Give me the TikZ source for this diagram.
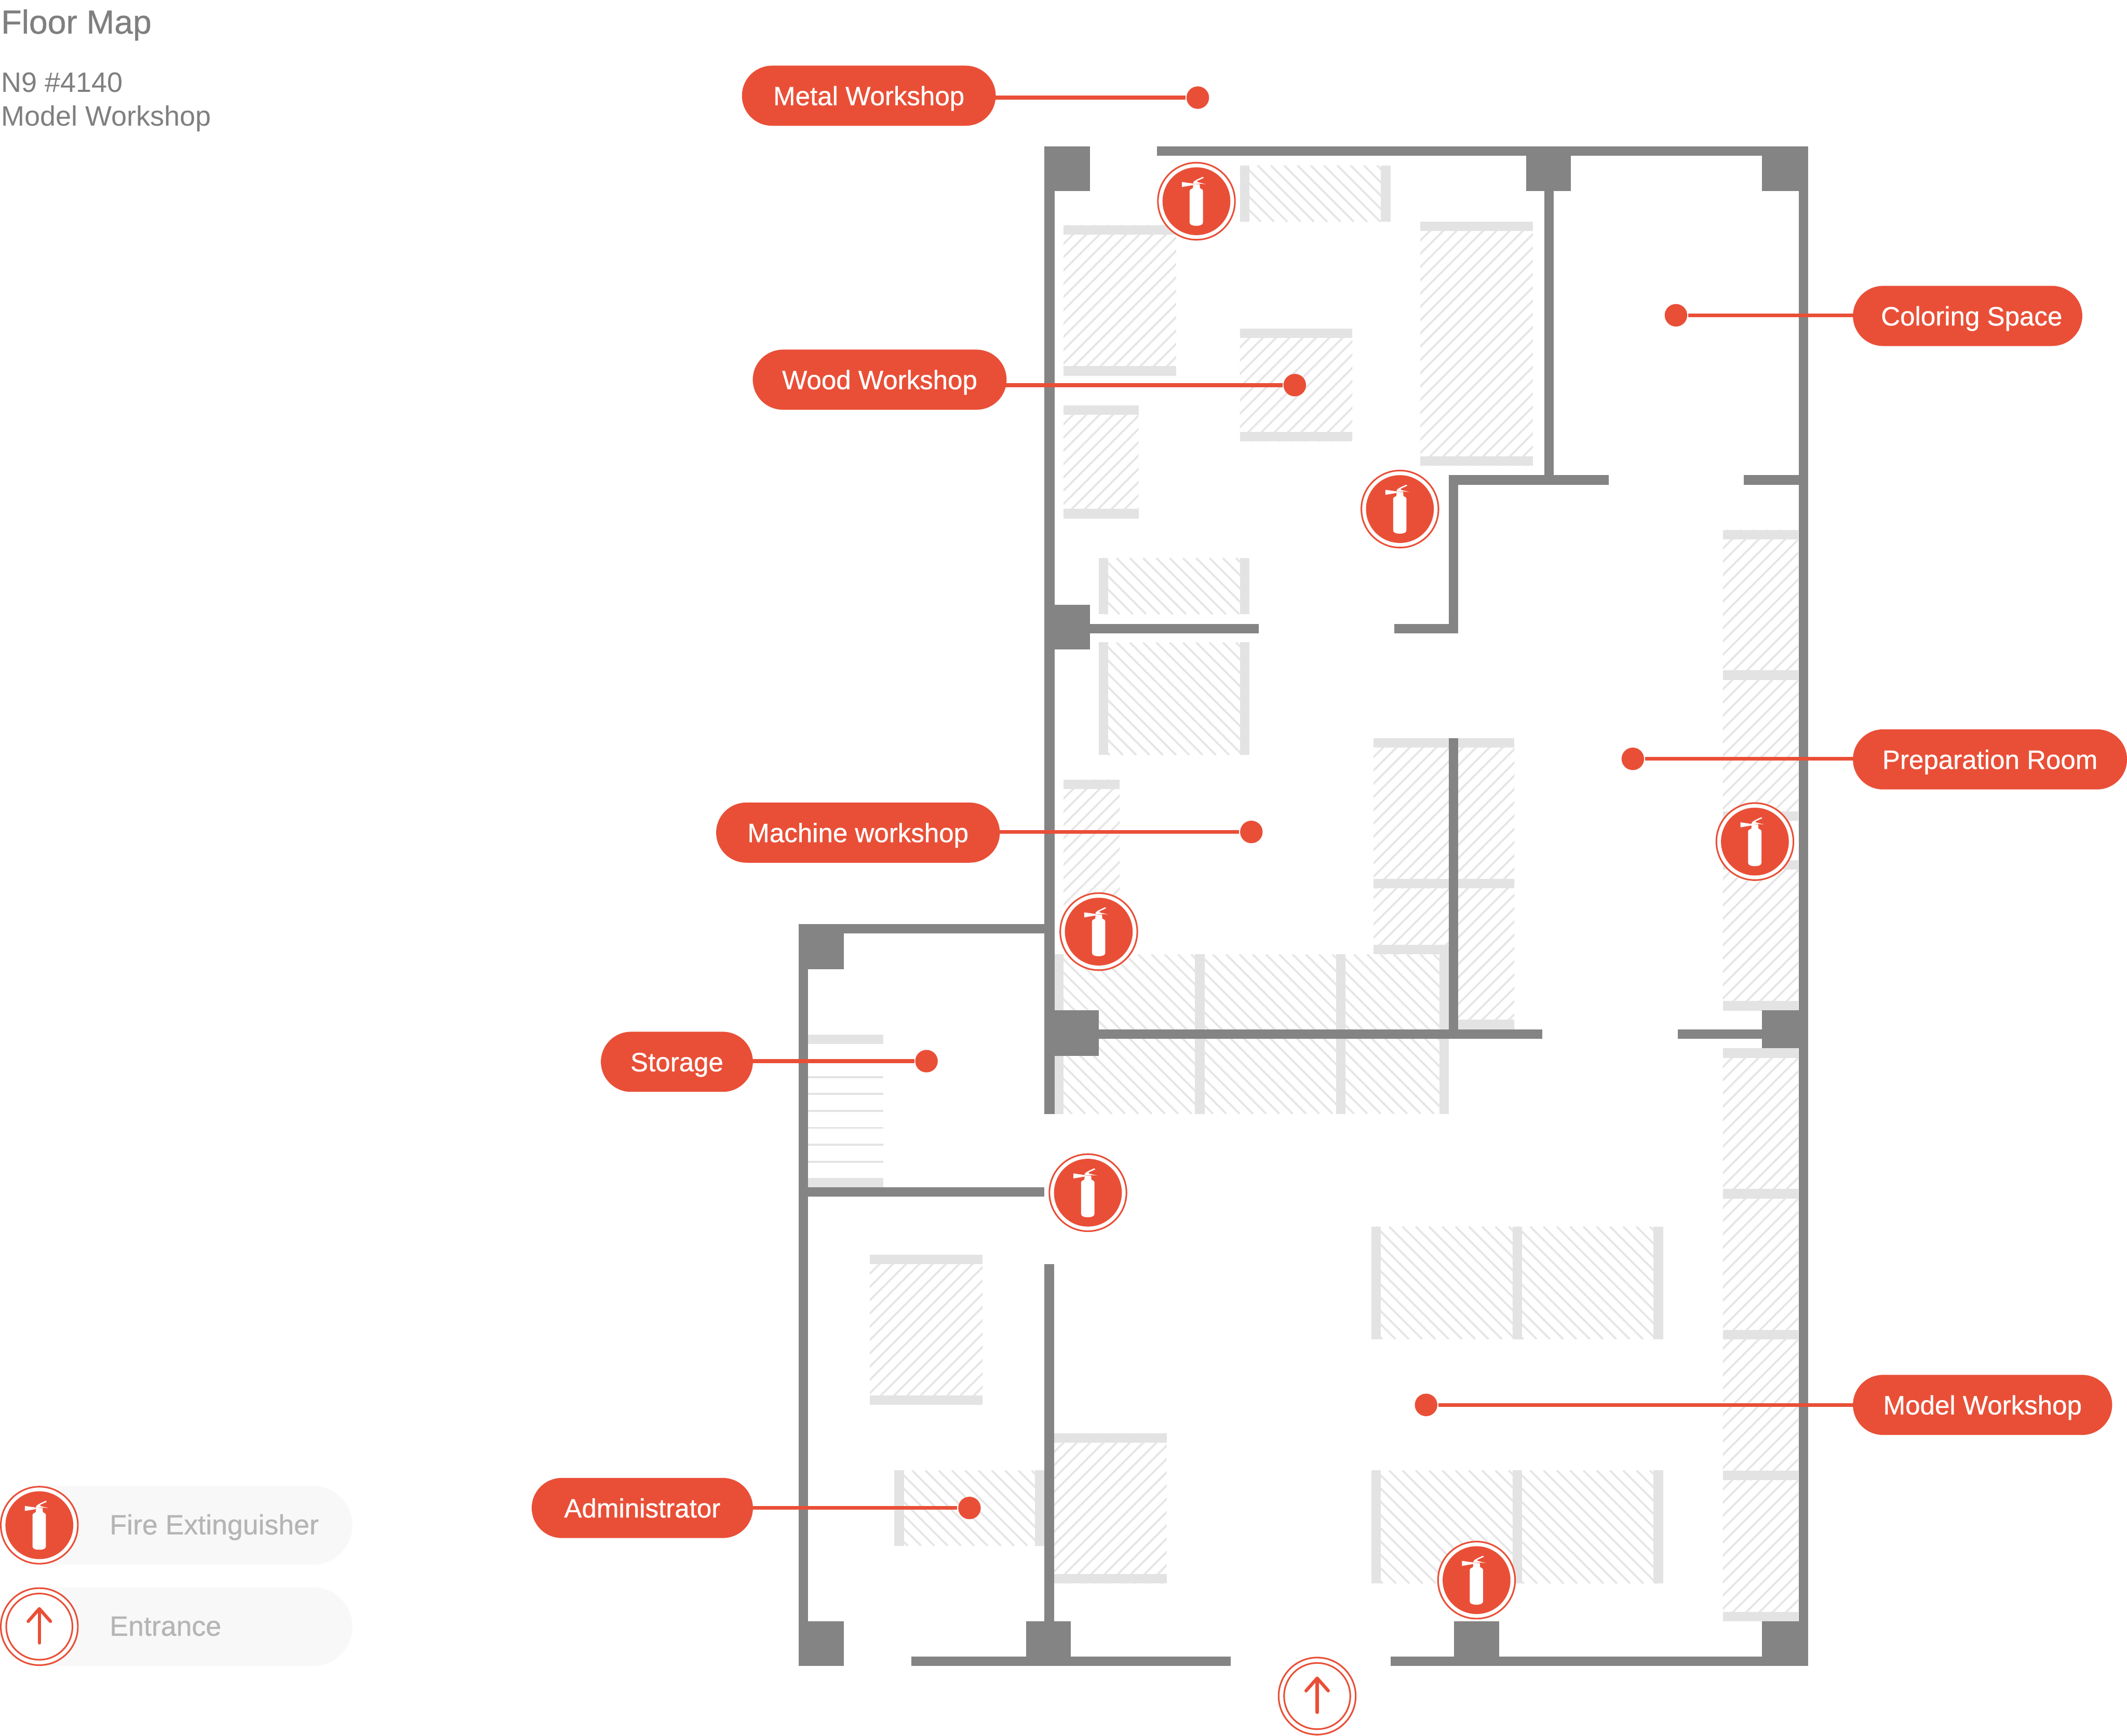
\documentclass[tikz,border=0pt]{standalone}
\usepackage{fontspec}
\setmainfont{Liberation Sans}
\newfontfamily\medfont[FakeBold=0.6]{Liberation Sans}
\usepackage{xcolor}
\usetikzlibrary{shapes.misc}

\definecolor{signred}{HTML}{E94F37}
\definecolor{wallgrey}{HTML}{848484}
\definecolor{shelfgrey}{HTML}{E3E3E3}
\definecolor{hatchgrey}{HTML}{E6E6E6}
\definecolor{legendbg}{HTML}{F8F8F8}
\definecolor{titlegrey}{HTML}{7F7F7F}
\definecolor{legendgrey}{HTML}{B5B5B5}

\tikzset{
	wall/.style={fill=wallgrey},
	shelf/.style={fill=shelfgrey},
	hatch/.style={draw=hatchgrey,line width=0.42pt},
	leader/.style={draw=signred,line width=0.8pt,shorten <=-0.5pt},
	spot/.style={circle,fill=signred,inner sep=0pt,minimum size=0.166cm},
	tag/.style={rounded rectangle,fill=signred,text=white,inner sep=0pt,minimum height=0.443cm,
		text height=0.14cm,text depth=0cm,font=\medfont\fontsize{5.56pt}{6.7pt}\selectfont},
	legendtag/.style={rounded rectangle,fill=legendbg,inner sep=0pt,minimum height=0.58cm,minimum width=2.59cm,anchor=west},
	legendtext/.style={anchor=base west,inner sep=0pt,text=legendgrey,font=\medfont\fontsize{5.84pt}{7pt}\selectfont},
	headtext/.style={anchor=base west,inner sep=0pt,text=titlegrey,font=\fontsize{5.88pt}{7pt}\selectfont},
	extinguisher/.pic={
		\fill[white] (0,0) circle (29);
		\draw[signred,line width=0.34pt] (0,0) circle (28.4);
		\fill[signred] (0,0) circle (25);
		\fill[white] (-5,-7.6) -- (-5,15.6) .. controls (-5,17.4) and (-3,18.1) .. (-0.1,18.1)
			.. controls (2.8,18.1) and (4.8,17.4) .. (4.8,15.6) -- (4.8,-7.6)
			.. controls (4.8,-8.6) and (3.4,-9.2) .. (2.6,-9.6) -- (2.4,-12.6) -- (-2.4,-12.6) -- (-2.6,-9.6)
			.. controls (-3.4,-9.2) and (-5,-8.6) .. (-5,-7.6) -- cycle;
		\fill[white] (-10.7,-14.2) -- (-2.4,-13) -- (-2.4,-11.9) -- (-10.7,-10.5) -- cycle;
		\fill[white] (-2.5,-12.6) .. controls (-3,-14.6) and (-0.6,-15.6) .. (4.8,-18) -- (5.4,-17.2) -- (0.8,-15.1)
			-- (0.6,-14.2) -- (6.8,-12.6) -- (2.4,-13) -- cycle;
	},
	entrance/.pic={
		\fill[white] (0,0) circle (29);
		\draw[signred,line width=0.34pt] (0,0) circle (28.4);
		\draw[signred,line width=0.34pt] (0,0) circle (24.4);
		\draw[signred,line width=0.68pt,line cap=round,line join=round] (0,12) -- (0,-13);
		\draw[signred,line width=0.68pt,line cap=round,line join=round] (-8.2,-3.9) -- (0,-13.2) -- (8.2,-3.9);
	},
}

% shelf with bars top and bottom
\newcommand{\shelfup}[4]{
	\begin{scope}
	\clip (#1,#2) rectangle (#3,#4);
	\pgfmathtruncatemacro{\nt}{(#3-#1+#4-#2)/9.79+1}
	\foreach \k in {0,...,\nt} {
		\pgfmathsetmacro{\offs}{#1+#2+4.1+\k*9.79}
		\draw[hatch] (\offs-#2,#2) -- (\offs-#4,#4);
	}
	\end{scope}
	\fill[shelf] (#1,#2) rectangle (#3,#2+7);
	\fill[shelf] (#1,#4-7) rectangle (#3,#4);
}

% shelf with bars left and right
\newcommand{\shelfdown}[4]{
	\begin{scope}
	\clip (#1,#2) rectangle (#3,#4);
	\pgfmathtruncatemacro{\nm}{(#4-#2)/9.79+1}
	\pgfmathtruncatemacro{\nt}{(#3-#1)/9.79+1+\nm}
	\foreach \k in {0,...,\nt} {
		\pgfmathsetmacro{\offs}{#1-#2+3.3+(\k-\nm)*9.79}
		\draw[hatch] (\offs+#2,#2) -- (\offs+#4,#4);
	}
	\end{scope}
	\fill[shelf] (#1,#2) rectangle (#1+7,#4);
	\fill[shelf] (#3-7,#2) rectangle (#3,#4);
}

\begin{document}
\begin{tikzpicture}[x=0.01cm,y=-0.01cm]
\useasboundingbox (0,0) rectangle (1568,1280);

\node[anchor=base west,inner sep=0pt,text=titlegrey,font=\medfont\fontsize{7pt}{8.4pt}\selectfont] (title) at (0.2,24.8) {Floor Map};
\node[headtext] (room) at (0.2,67.8) {N9 \#4140};
\node[headtext] (roomname) at (0.2,92.7) {Model Workshop};

\foreach \xa/\ya/\xb/\yb in {914/122/1025/163.5,810/411.5/921/453,810/473.7/921/556.8,
	777/703.7/888/821.4,881/703.7/992/821.4,985/703.7/1068/821.4,659.3/1084.3/770/1140,
	1011/904.5/1122/987.6,1115/904.5/1226/987.6,1011/1084.3/1122/1167.7,1115/1084.3/1226/1167.7} {
	\shelfdown{\xa}{\ya}{\xb}{\yb}
}

\foreach \xa/\ya/\xb/\yb in {784/166/867/277,1047/163.5/1130/343.5,914/242.4/997/325.5,784/299/839.4/382.3,
	784/575/825.5/686,1012.6/544.4/1116.4/655.2,1012.6/648.2/1068/703.7,1075/648.2/1116.4/759,
	641.3/925.3/724.4/1036,777/1056.9/860/1167.7,
	1270/390.7/1325.6/501.4,1270/494.5/1325.6/605.3,1270/634.4/1325.6/745.2,
	1270/773/1325.6/883.7,1270/876.8/1325.6/987.6,1270/980.7/1325.6/1091.5,1270/1084.5/1325.6/1195.5} {
	\shelfup{\xa}{\ya}{\xb}{\yb}
}

% stairs
\fill[shelf] (595.6,763) rectangle (651,770);
\fill[shelf] (595.6,868.5) rectangle (651,875.4);
\foreach \y in {793.7,806,818.6,831,843.5,856} {
	\fill[shelf] (595.6,\y) rectangle (651,\y+1.4);
}

\foreach \xa/\ya/\xb/\yb in {770/108/777.5/821.4,770/108/803.4/141,853/108/1333/115,1125/108/1158/141,
	1299/108/1333/141,1326/108/1333/1228.6,1138.6/108/1145.5/357.4,1068/350.4/1186/357.4,
	1285.4/350.4/1326/357.4,1068/350.4/1075/467,1028/460/1075/467,770/446/803.4/479,770/460/928/467,
	770/745/810/778.5,1068/544.4/1075/766,777/759/1137/766,1237/759/1299/766,1299/745/1333/773,
	588.6/681.5/770/688.5,588.6/681.5/622/714.7,588.6/681.5/595.6/1228.6,595.6/875.4/770/882.3,
	770/932/777/1195.5,588.6/1195.4/622/1228.6,756.3/1195.4/789.5/1228.6,671.8/1221.7/907.2/1228.6,
	1025/1221.7/1332.5/1228.6,1072/1195.5/1105/1228.6,1299/1195.5/1333/1228.6} {
	\fill[wall] (\xa,\ya) rectangle (\xb,\yb);
}

\foreach \name/\txt/\x/\y/\w/\dx/\dy/\side in {
	metal/Metal Workshop/640.5/70.6/1.87/883/72/east,
	wood/Wood Workshop/648.5/280/1.87/954.5/284/east,
	machine/Machine workshop/632.5/614/2.09/922.5/613.5/east,
	storage/Storage/499/783/1.12/683/782.5/east,
	admin/Administrator/473.5/1112/1.63/714.7/1112/east,
	coloring/\hspace{1.7pt}Coloring Space/1450.5/233/1.69/1235.5/232.5/west,
	prep/Preparation Room/1467/560/2.02/1203.7/559.6/west,
	model/Model Workshop/1461.5/1036/1.91/1051.3/1036/west} {
	\node[tag,minimum width=\w cm] (p\name) at (\x,\y) {\txt};
	\node[spot] (d\name) at (\dx,\dy) {};
	\draw[leader] (p\name.\side |- d\name) -- (d\name);
}

\node[legendtag] (legendfire) at (0,1124.7) {};
\node[legendtag] (legendentrance) at (0,1199.5) {};
\node[legendtext] (firetext) at (80.2,1131.5) {Fire Extinguisher};
\node[legendtext] (entrancetext) at (80.2,1206.2) {Entrance};

\foreach \x/\y in {882/148.4,1032/375.4,1293.7/620.6,810/687,802/879.5,1088.5/1165.2,29/1124.7} {
	\pic at (\x,\y) {extinguisher};
}
\foreach \x/\y in {971/1250.7,29/1199.5} {
	\pic at (\x,\y) {entrance};
}

\end{tikzpicture}
\end{document}
